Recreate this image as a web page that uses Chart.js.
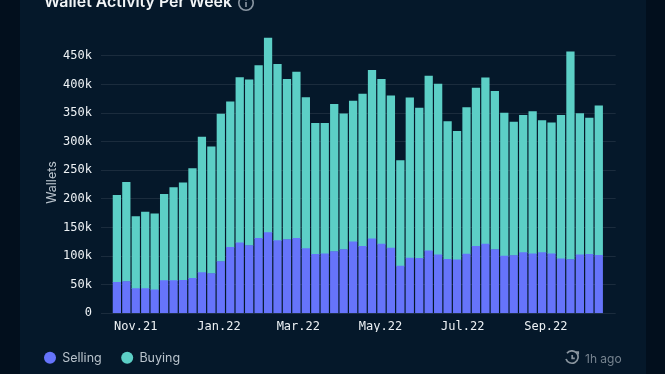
<!DOCTYPE html>
<html>
<head>
<meta charset="utf-8">
<style>
  html, body { margin: 0; padding: 0; width: 665px; height: 374px; overflow: hidden; background: #020f1d; }
  #card { position: absolute; left: 20px; top: -20px; width: 626px; height: 420px; background: #05182a; }
  #wrap { position: absolute; left: 0; top: 0; width: 665px; height: 374px; }
  #title { position: absolute; left: 44px; top: -8px; font: 600 15.9px Inter, sans-serif; color: #f2f5f7; white-space: nowrap; }
  #info { position: absolute; left: 237px; top: -6px; }
  #updated { position: absolute; left: 585px; top: 351px; font: 12px Inter, sans-serif; color: #76838f; white-space: nowrap; }
  #clock { position: absolute; left: 564px; top: 350px; }
</style>
</head>
<body>
<div id="card"></div>
<div id="wrap"><canvas id="walletChart" width="665" height="374"></canvas></div>
<div id="title">Wallet Activity Per Week</div>
<svg id="info" width="18" height="18" viewBox="0 0 18 18" fill="none" stroke="#8b97a3" stroke-width="1.6">
  <circle cx="9" cy="9" r="7.2"/><path d="M9 8v5M9 5v1.4"/>
</svg>
<svg id="clock" width="16" height="16" viewBox="0 0 16 16" fill="none" stroke="#8a959f" stroke-width="1.7">
  <path d="M3 3.2A6.2 6.2 0 1 1 2 9"/><path d="M1.6 3.2h2.6v2.4" transform="translate(10 -1)"/><path d="M8.2 5v3.4h2.6"/>
</svg>
<div id="updated">1h ago</div>
<script src="https://cdn.jsdelivr.net/npm/chart.js@4"></script>
<script>
const weeks = [0,1,2,3,4,5,6,7,8,9,10,11,12,13,14,15,16,17,18,19,20,21,22,23,24,25,
  26,27,28,29,30,31,32,33,34,35,36,37,38,39,40,41,42,43,44,45,46,47,48,49,50,51];

const selling = [54,55.5,43,43,41,57,57,57.5,61,71,69.5,90.5,115.5,123,118.5,131,141,127,129,131,113,103,104,
  108,111.5,125,117,130,121,114,82.5,96.5,96,109,102,94.5,93.5,103.5,117,121,111.5,100,101,106,104,106,104,95,94,102,103,101.5];

const buying = [152,173.5,126,134,133,151,162.5,170.5,192,237,221.5,257.5,254,289,289.5,302,340,308,280,290.5,264,229,228,
  257,237,246,266,294.5,288,266,184.5,280,262.5,305.5,298.5,240.5,224.5,256,276.5,290.5,276.5,250,233,240,248.5,231,229,251,363,247,238,261];

// month labels sit on their real date, so not always on a bar
const monthTicks = [2.0,10.8,19.2,27.9,36.6,45.4];
const monthLabels = ['Nov.21','Jan.22','Mar.22','May.22','Jul.22','Sep.22'];

const ctx = document.getElementById('walletChart').getContext('2d');
new Chart(ctx, {
  type: 'bar',
  data: {
    labels: weeks,
    datasets: [
      { label: 'Selling', data: selling.map(v => v * 1000), backgroundColor: '#6674fb', barThickness: 7.6 },
      { label: 'Buying', data: buying.map(v => v * 1000), backgroundColor: '#5ccfc6', barThickness: 7.6 }
    ]
  },
  options: {
    responsive: false,
    animation: false,
    layout: { padding: { left: 24.5, right: 49.3, top: 27.2, bottom: 0 } },
    plugins: {
      tooltip: { enabled: false },
      legend: {
        position: 'bottom',
        align: 'start',
        labels: {
          usePointStyle: true,
          pointStyle: 'circle',
          pointStyleWidth: 12,
          boxHeight: 8.5,
          padding: 19.5,
          color: '#b9c3cc',
          font: { family: 'Inter', size: 12.5 }
        }
      }
    },
    scales: {
      x: {
        type: 'linear',
        stacked: true,
        offset: false,
        min: -1.68,
        max: 52.79,
        grid: { display: false, drawTicks: false },
        border: { display: false },
        afterBuildTicks: axis => { axis.ticks = monthTicks.map(v => ({ value: v })); },
        afterFit: axis => { axis.height = 18.7; },
        ticks: {
          autoSkip: false,
          maxRotation: 0,
          padding: 6,
          color: '#eef2f5',
          font: { family: 'DejaVu Sans Mono', size: 12 },
          callback: v => monthLabels[monthTicks.indexOf(v)]
        }
      },
      y: {
        stacked: true,
        min: 0,
        max: 500000,
        afterFit: axis => { axis.width = 76.5; },
        afterBuildTicks: axis => { axis.ticks = axis.ticks.filter(t => t.value <= 450000); },
        grid: { color: 'rgba(255,255,255,0.09)', drawTicks: false },
        border: { display: false },
        title: {
          display: true,
          // trailing spaces push the word down the axis, it is not centred on it
          text: 'Wallets' + '\u00a0'.repeat(7),
          color: '#b9c3cc',
          font: { family: 'Inter', size: 12.5 },
          padding: { top: 20, bottom: 0 }
        },
        ticks: {
          stepSize: 50000,
          padding: 9,
          color: '#eef2f5',
          font: { family: 'DejaVu Sans Mono', size: 12 },
          callback: v => v === 0 ? '0' : (v / 1000) + 'k'
        }
      }
    }
  }
});
</script>
</body>
</html>
